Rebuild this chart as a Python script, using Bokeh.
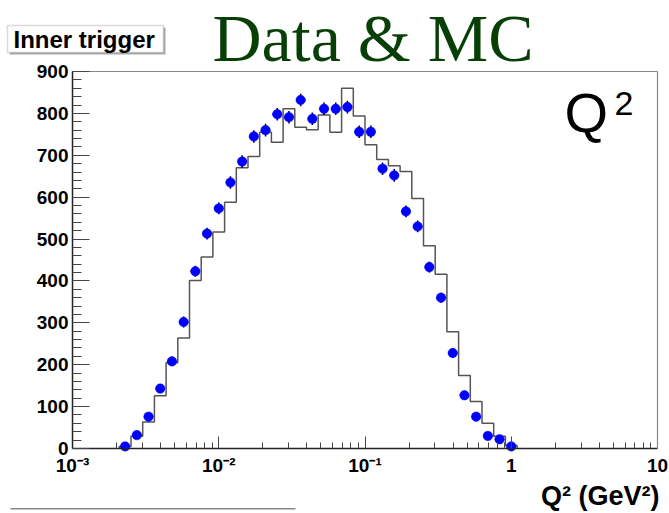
from bokeh.plotting import figure
from bokeh.models import (Range1d, FixedTicker, SingleIntervalTicker, Label, BoxAnnotation,
                          LinearAxis, LogAxis)
from bokeh.embed import file_html
from bokeh.resources import INLINE
import math

# ---- data ----
log_q2_centers = [-2.64, -2.56, -2.48, -2.40, -2.32, -2.24, -2.16, -2.08, -2.00, -1.92,
                  -1.84, -1.76, -1.68, -1.60, -1.52, -1.44, -1.36, -1.28, -1.20, -1.12,
                  -1.04, -0.96, -0.88, -0.80, -0.72, -0.64, -0.56, -0.48, -0.40, -0.32,
                  -0.24, -0.16, -0.08, 0.00]
data_counts = [5, 32, 76, 143, 208, 302, 423, 513, 573, 635,
               685, 745, 760, 798, 791, 832, 787, 811, 811, 815,
               756, 756, 668, 652, 566, 530, 433, 360, 228, 127,
               76, 30, 22, 5]
data_errors = [3, 5, 7, 9, 11, 13, 13, 14, 14, 15,
               15, 15, 15, 15, 15, 15, 15, 15, 15, 15,
               15, 15, 15, 15, 14, 14, 13, 12, 11, 9,
               7, 5, 4, 3]
mc_counts = [5, 29, 63, 126, 205, 264, 401, 457, 517, 588,
             670, 697, 755, 731, 811, 767, 761, 796, 755, 860,
             794, 725, 690, 675, 661, 597, 484, 416, 279, 174,
             112, 60, 29, 7]
x_tick_values = [0.001, 0.01, 0.1, 1.0, 10.0]
x_tick_labels = ["10\u207b\u00b3", "10\u207b\u00b2", "10\u207b\u00b9", "1", "10"]

HALF = 0.04  # half bin width in log10
X_MIN, X_MAX = 1e-3, 10.0
Y_MIN, Y_MAX = 0, 900

# ---- layout constants (pixels) ----
W, H = 669, 513
FL, FR, FT, FB = 72, 657, 71, 448   # where the axes box sits on the canvas

# The frame fills the whole canvas; the ranges are widened so that the
# axes box lands at FL..FR / FT..FB.
dec_px = (FR - FL) / (math.log10(X_MAX) - math.log10(X_MIN))
lx0 = math.log10(X_MIN) - FL / dec_px
lx1 = math.log10(X_MAX) + (W - FR) / dec_px
upp = (Y_MAX - Y_MIN) / (FB - FT)
y0 = Y_MIN - (H - FB) * upp
y1 = Y_MAX + FT * upp


def sx(px):
    return px


def sy(py):
    return H - py


p = figure(width=W, height=H, x_axis_type="log", x_axis_location=None,
           y_axis_location=None, output_backend="svg", toolbar_location=None,
           min_border=0, min_border_left=0, min_border_right=0,
           min_border_top=0, min_border_bottom=0)
p.x_range = Range1d(10 ** lx0, 10 ** lx1)
p.y_range = Range1d(y0, y1)
p.xgrid.visible = False
p.ygrid.visible = False
p.background_fill_color = "white"
p.border_fill_color = "white"
p.outline_line_color = None

minor = [k * 10.0 ** e for e in range(-3, 1) for k in range(2, 10)]

xaxis = LogAxis(fixed_location=Y_MIN, bounds=(X_MIN, X_MAX),
                ticker=FixedTicker(ticks=x_tick_values, minor_ticks=minor))
xaxis.major_label_overrides = {v: l for v, l in zip(x_tick_values, x_tick_labels)}
yaxis = LinearAxis(fixed_location=X_MIN, bounds=(Y_MIN, Y_MAX),
                   ticker=SingleIntervalTicker(interval=100, num_minor_ticks=5))
topaxis = LogAxis(fixed_location=Y_MAX, bounds=(X_MIN, X_MAX),
                  ticker=FixedTicker(ticks=[]), major_label_text_font_size="0px")
rightaxis = LinearAxis(fixed_location=X_MAX, bounds=(Y_MIN, Y_MAX),
                       ticker=FixedTicker(ticks=[]), major_label_text_font_size="0px")

for ax in (xaxis, yaxis):
    ax.axis_line_color = "#222222"
    ax.axis_line_width = 1.5
    ax.major_tick_line_color = "#444444"
    ax.minor_tick_line_color = "#444444"
    ax.major_tick_out = 0
    ax.minor_tick_out = 0
    ax.major_label_text_font = "Liberation Sans"
    ax.major_label_text_font_style = "bold"
    ax.major_label_text_font_size = "19px"
    ax.major_label_text_color = "black"
yaxis.major_tick_in = 17
yaxis.minor_tick_in = 9
yaxis.major_label_standoff = 4
xaxis.major_tick_in = 12
xaxis.minor_tick_in = 6
xaxis.major_label_standoff = 6
for ax in (topaxis, rightaxis):
    ax.axis_line_color = "#888888"
    ax.axis_line_width = 1.2
    ax.major_tick_line_color = None
    ax.minor_tick_line_color = None

p.add_layout(xaxis, "below")
p.add_layout(yaxis, "left")
p.add_layout(topaxis, "above")
p.add_layout(rightaxis, "right")

# MC histogram outline
centers = [10 ** c for c in log_q2_centers]
edges = [10 ** (c - HALF) for c in log_q2_centers] + [10 ** (log_q2_centers[-1] + HALF)]
hx, hy = [edges[0]], [0]
for i, v in enumerate(mc_counts):
    hx += [edges[i], edges[i + 1]]
    hy += [v, v]
hx.append(edges[-1])
hy.append(0)
p.line(hx, hy, line_color="#555555", line_width=1.5)

# data with error bars
lo = [10 ** (c - HALF * 0.8) for c in log_q2_centers]
hi = [10 ** (c + HALF * 0.8) for c in log_q2_centers]
p.segment(lo, data_counts, hi, data_counts, line_color="black", line_width=1.5)
p.segment(centers, [d - e for d, e in zip(data_counts, data_errors)],
          centers, [d + e for d, e in zip(data_counts, data_errors)],
          line_color="black", line_width=1.5)
p.scatter(centers, data_counts, marker="circle", size=9.5, fill_color="#0000ff",
          line_color="#0000ff", line_width=0.5)

# boxes
p.add_layout(BoxAnnotation(left=sx(9), right=sx(165), top=sy(27), bottom=sy(54),
                           left_units="screen", right_units="screen",
                           top_units="screen", bottom_units="screen",
                           fill_color="#aaaaaa", fill_alpha=1.0, line_color=None))
p.add_layout(BoxAnnotation(left=sx(7), right=sx(163), top=sy(25), bottom=sy(52),
                           left_units="screen", right_units="screen",
                           top_units="screen", bottom_units="screen",
                           fill_color="white", fill_alpha=1.0,
                           line_color="#888888", line_width=1.5))
p.add_layout(BoxAnnotation(left=sx(10), right=sx(295), top=sy(507.5), bottom=sy(509),
                           left_units="screen", right_units="screen",
                           top_units="screen", bottom_units="screen",
                           fill_color="#888888", fill_alpha=1.0, line_color=None))

# texts
p.add_layout(Label(x=sx(212), y=sy(37), x_units="screen", y_units="screen",
                   text="Data & MC", text_font="Liberation Serif", text_font_size="68px",
                   text_color="#073f07", text_baseline="middle"))
p.add_layout(Label(x=sx(13), y=sy(38.5), x_units="screen", y_units="screen",
                   text="Inner trigger", text_font="Liberation Sans", text_font_style="bold",
                   text_font_size="24px", text_color="black", text_baseline="middle"))
p.add_layout(Label(x=sx(564), y=sy(112), x_units="screen", y_units="screen",
                   text="Q", text_font="Liberation Sans", text_font_size="56px",
                   text_color="black", text_baseline="middle"))
p.add_layout(Label(x=sx(614), y=sy(103), x_units="screen", y_units="screen",
                   text="2", text_font="Liberation Sans", text_font_size="34px",
                   text_color="black", text_baseline="middle"))
p.add_layout(Label(x=sx(659), y=sy(495), x_units="screen", y_units="screen",
                   text="Q\u00b2 (GeV\u00b2)", text_font="Liberation Sans",
                   text_font_style="bold", text_font_size="27px", text_color="black",
                   text_align="right", text_baseline="middle"))

open("out.html", "w").write(file_html(p, INLINE))
